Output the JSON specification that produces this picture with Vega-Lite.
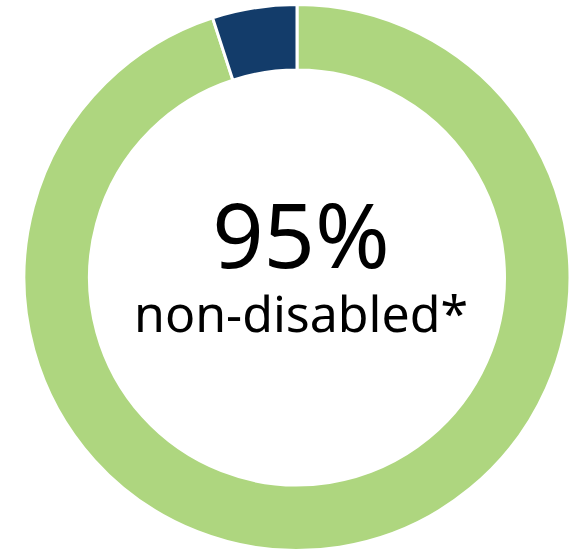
{
  "$schema": "https://vega.github.io/schema/vega-lite/v6.json",
  "width": 582,
  "height": 553,
  "autosize": {"type": "fit", "contains": "padding"},
  "padding": {"left": 12, "top": 2, "right": 0, "bottom": 0},
  "background": "white",
  "view": {"stroke": null},
  "layer": [
    {
      "data": {"values": [
        {"group": "non-disabled", "value": 95, "order": 1},
        {"group": "disabled", "value": 5, "order": 2}
      ]},
      "mark": {"type": "arc", "outerRadius": 273, "innerRadius": 207.5, "stroke": "white", "strokeWidth": 3},
      "encoding": {
        "theta": {"field": "value", "type": "quantitative", "stack": true},
        "order": {"field": "order", "type": "quantitative"},
        "color": {"field": "group", "type": "nominal", "legend": null,
          "scale": {"domain": ["non-disabled", "disabled"], "range": ["#AED67F", "#133C6A"]}}
      }
    },
    {
      "data": {"values": [{"label": "95%"}]},
      "mark": {"type": "text", "font": "Noto Sans", "fontSize": 90, "color": "black", "baseline": "alphabetic", "align": "center", "dy": -9.5, "dx": 4},
      "encoding": {"text": {"field": "label"}}
    },
    {
      "data": {"values": [{"label": "non-disabled*"}]},
      "mark": {"type": "text", "font": "Noto Sans", "fontSize": 50, "color": "black", "baseline": "alphabetic", "align": "center", "dy": 54.5, "dx": 4},
      "encoding": {"text": {"field": "label"}}
    }
  ]
}
